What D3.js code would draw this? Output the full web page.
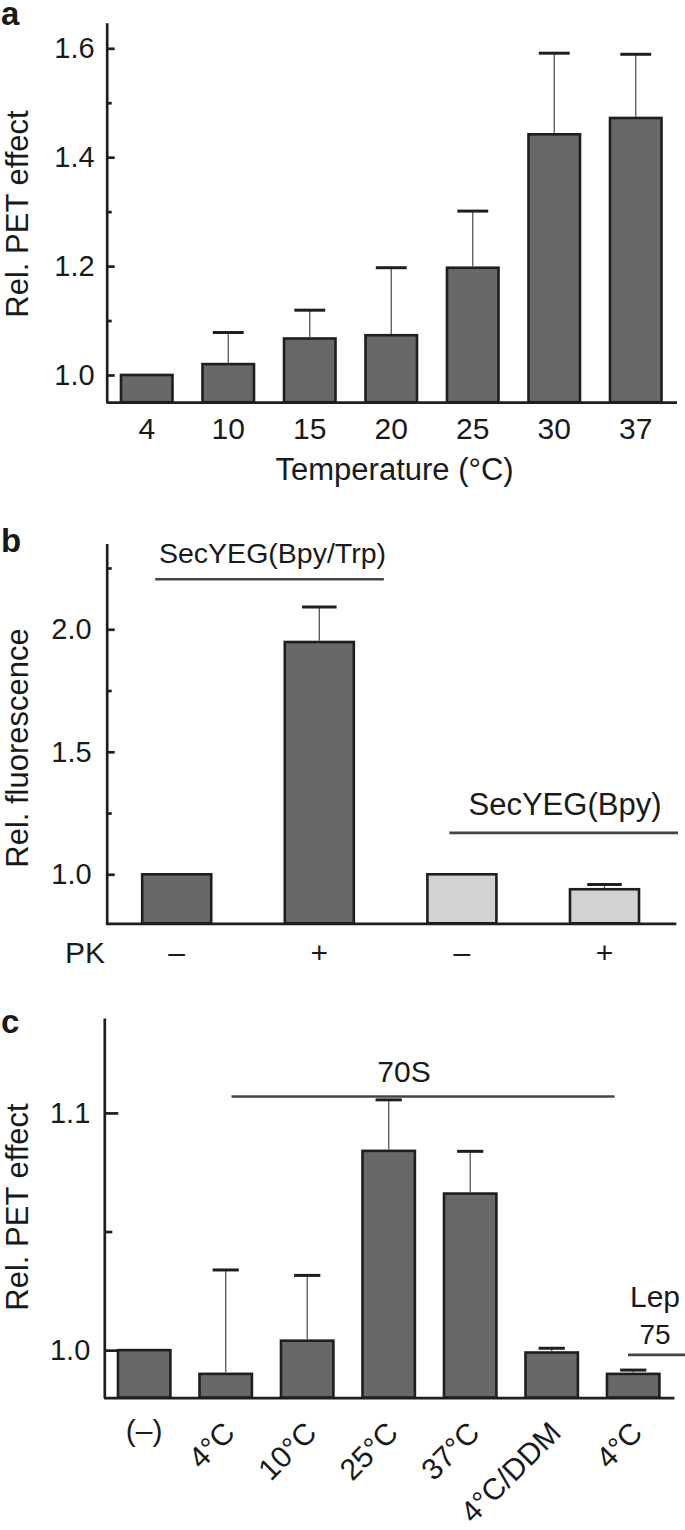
<!DOCTYPE html>
<html>
<head>
<meta charset="utf-8">
<script src="https://cdn.jsdelivr.net/npm/d3@7"></script>
<style>
  body { margin: 0; background: #fff; }
  svg { display: block; font-family: "Liberation Sans", Arial, Helvetica, sans-serif; }
  text { fill: #1a1a1a; }
</style>
</head>
<body>
<svg class="figure"></svg>
<script>
const size = { w: 685, h: 1530 };

// panel a: PET effect vs temperature
const tempLabels = ["4", "10", "15", "20", "25", "30", "37"];
const tempMeans = [1.0, 1.02, 1.067, 1.073, 1.197, 1.442, 1.472];
const tempErrors = [0, 0.058, 0.052, 0.124, 0.104, 0.149, 0.117];

// panel b: fluorescence with / without proteinase K
const pkLabels = ["–", "+", "–", "+"];
const fluorGroups = ["Bpy/Trp", "Bpy/Trp", "Bpy", "Bpy"];
const fluorMeans = [1.0, 1.948, 1.0, 0.939];
const fluorErrors = [0, 0.143, 0, 0.019];

// panel c: PET effect, 70S vs Lep75
const condLabels = ["(–)", "4°C", "10°C", "25°C", "37°C", "4°C/DDM", "4°C"];
const petMeans = [1.0, 0.99, 1.004, 1.084, 1.066, 0.999, 0.99];
const petErrors = [0, 0.0438, 0.0275, 0.0215, 0.0178, 0.0018, 0.0016];

const darkFill = "#67686a";
const lightFill = "#d0d2d3";
const edge = "#1e1e1e";

const svg = d3.select("svg.figure").attr("width", size.w).attr("height", size.h);
svg.append("rect").attr("width", size.w).attr("height", size.h).attr("fill", "#fff");

// bars + error bars, shared by all three panels
function drawBars(g, x, y, means, errors, fills, capFrac) {
	const base = y.domain()[0];
	const bw = x.bandwidth();
	g.selectAll("rect.bar")
		.data(means)
		.join("rect")
		.classed("bar", true)
		.attr("x", (d, i) => x(i))
		.attr("width", bw)
		.attr("y", (d) => y(d))
		.attr("height", (d) => y(base) - y(d))
		.attr("fill", (d, i) => fills[i])
		.attr("stroke", edge)
		.attr("stroke-width", 2.6);

	const errData = means
		.map((m, i) => ({ i: i, m: m, e: errors[i] }))
		.filter((d) => d.e > 0);

	g.selectAll("line.err")
		.data(errData)
		.join("line")
		.classed("err", true)
		.attr("x1", (d) => x(d.i) + bw / 2)
		.attr("x2", (d) => x(d.i) + bw / 2)
		.attr("y1", (d) => y(d.m) - 1.3)
		.attr("y2", (d) => y(d.m + d.e))
		.attr("stroke", "#555")
		.attr("stroke-width", 1.3);

	g.selectAll("line.cap")
		.data(errData)
		.join("line")
		.classed("cap", true)
		.attr("x1", (d) => x(d.i) + bw / 2 - (bw * capFrac) / 2)
		.attr("x2", (d) => x(d.i) + bw / 2 + (bw * capFrac) / 2)
		.attr("y1", (d) => y(d.m + d.e))
		.attr("y2", (d) => y(d.m + d.e))
		.attr("stroke", edge)
		.attr("stroke-width", 3);
}

// left axis with inward ticks, plus unlabeled minor ticks
function drawYAxis(g, y, x0, majors, minors, majorLen, minorLen, pad) {
	const ax = g.append("g")
		.attr("transform", `translate(${x0},0)`)
		.call(d3.axisLeft(y)
			.tickValues(majors)
			.tickFormat(d3.format(".1f"))
			.tickSizeInner(-majorLen)
			.tickSizeOuter(0)
			.tickPadding(pad));
	const mn = g.append("g")
		.attr("transform", `translate(${x0},0)`)
		.call(d3.axisLeft(y)
			.tickValues(minors)
			.tickFormat("")
			.tickSizeInner(-minorLen)
			.tickSizeOuter(0));
	mn.select(".domain").remove();
	[ax, mn].forEach((a) => {
		a.selectAll(".domain, line").attr("stroke", edge).attr("stroke-width", 2.7);
		a.selectAll("text").attr("font-size", 29).attr("font-family", null).attr("fill", "#1a1a1a");
	});
}

function styleXAxis(a) {
	a.select(".domain").attr("stroke", edge).attr("stroke-width", 2.7);
	a.selectAll("text").attr("font-size", 30).attr("font-family", null).attr("fill", "#1a1a1a");
}

function yTitle(g, label, cy) {
	g.append("text")
		.attr("transform", `translate(28,${cy}) rotate(-90)`)
		.attr("text-anchor", "middle")
		.attr("font-size", 31)
		.text(label);
}

function panelLetter(g, letter, y) {
	g.append("text")
		.attr("x", 1)
		.attr("y", y)
		.attr("font-size", 33)
		.attr("font-weight", "bold")
		.text(letter);
}

// ---------------- panel a ----------------
function drawTempChart() {
	const g = svg.append("g");
	const x = d3.scaleBand()
		.domain(d3.range(tempLabels.length))
		.range([106, 676.5])
		.paddingInner(0.368)
		.paddingOuter(0.184);
	const y = d3.scaleLinear().domain([0.95, 1.647]).range([402.2, 22.7]);

	drawBars(g, x, y, tempMeans, tempErrors, tempMeans.map(() => darkFill), 0.6);

	const xa = g.append("g")
		.attr("transform", `translate(0,${y(0.95)})`)
		.call(d3.axisBottom(x).tickFormat((i) => tempLabels[i]).tickSize(0).tickPadding(15.5));
	styleXAxis(xa);
	drawYAxis(g, y, 106.7, [1.0, 1.2, 1.4, 1.6], [1.1, 1.3, 1.5], 8, 5, 12);

	g.append("text")
		.attr("x", 394.6)
		.attr("y", 480)
		.attr("text-anchor", "middle")
		.attr("font-size", 31)
		.text("Temperature (°C)");
	yTitle(g, "Rel. PET effect", 214);
	panelLetter(g, "a", 25);
}

// ---------------- panel b ----------------
function drawFluorChart() {
	const g = svg.append("g");
	const x = d3.scaleBand()
		.domain(d3.range(pkLabels.length))
		.range([105.4, 675.8])
		.paddingInner(0.516)
		.paddingOuter(0.258);
	const y = d3.scaleLinear().domain([0.8, 2.35]).range([923.3, 543.5]);
	const fills = fluorGroups.map((d) => (d === "Bpy/Trp" ? darkFill : lightFill));

	drawBars(g, x, y, fluorMeans, fluorErrors, fills, 0.5);

	const xa = g.append("g")
		.attr("transform", `translate(0,${y(0.8)})`)
		.call(d3.axisBottom(x).tickFormat((i) => pkLabels[i]).tickSize(0).tickPadding(18));
	styleXAxis(xa);
	drawYAxis(g, y, 106.7, [1.0, 1.5, 2.0], [1.25, 1.75, 2.25], 8, 5, 15);

	g.append("text")
		.attr("x", 105)
		.attr("y", 962.6)
		.attr("text-anchor", "end")
		.attr("font-size", 30)
		.text("PK");

	// group brackets
	const bw = x.bandwidth();
	const groups = [
		{ label: "SecYEG(Bpy/Trp)", x1: x(0) + 13, x2: x(1) + bw + 30, ly: 2.204, tx: 272.5, ty: 563.3, fs: 28.5 },
		{ label: "SecYEG(Bpy)", x1: x(2) + 22, x2: 678, ly: 1.169, tx: 565, ty: 814.5, fs: 31 },
	];
	groups.forEach((d) => {
		g.append("line")
			.attr("x1", d.x1).attr("x2", d.x2)
			.attr("y1", y(d.ly)).attr("y2", y(d.ly))
			.attr("stroke", "#444").attr("stroke-width", 2.6);
		g.append("text")
			.attr("x", d.tx).attr("y", d.ty)
			.attr("text-anchor", "middle")
			.attr("font-size", d.fs)
			.text(d.label);
	});

	yTitle(g, "Rel. fluorescence", 748);
	panelLetter(g, "b", 552);
}

// ---------------- panel c ----------------
function drawPetChart() {
	const g = svg.append("g");
	const x = d3.scaleBand()
		.domain(d3.range(condLabels.length))
		.range([103.45, 673.95])
		.paddingInner(0.357)
		.paddingOuter(0.1785);
	const y = d3.scaleLinear().domain([0.98, 1.14]).range([1397.6, 1018]);
	const bw = x.bandwidth();

	drawBars(g, x, y, petMeans, petErrors, petMeans.map(() => darkFill), 0.5);

	const xa = g.append("g")
		.attr("transform", `translate(0,${y(0.98)})`)
		.call(d3.axisBottom(x).tickFormat("").tickSize(0));
	styleXAxis(xa);
	drawYAxis(g, y, 104.3, [1.0, 1.1], [1.05], 14, 8, 14);

	// category labels: first upright, the rest slanted
	g.selectAll("text.cond")
		.data(condLabels)
		.join("text")
		.classed("cond", true)
		.attr("font-size", 30)
		.attr("text-anchor", (d, i) => (i === 0 ? "middle" : "end"))
		.attr("transform", (d, i) =>
			i === 0
				? `translate(${x(i) + bw / 2},${y(0.98) + 43.5})`
				: `translate(${x(i) + bw / 2 + 11},${y(0.98) + 37}) rotate(-45)`
		)
		.text((d) => d);

	// 70S bracket
	g.append("line")
		.attr("x1", x(1) + 32).attr("x2", x(5) + bw * 1.7)
		.attr("y1", y(1.1069)).attr("y2", y(1.1069))
		.attr("stroke", "#444").attr("stroke-width", 2.6);
	g.append("text")
		.attr("x", 404).attr("y", 1081.7)
		.attr("text-anchor", "middle").attr("font-size", 30)
		.text("70S");

	// Lep75 bracket
	g.append("line")
		.attr("x1", x(6) + 21).attr("x2", 685)
		.attr("y1", y(0.998)).attr("y2", y(0.998))
		.attr("stroke", "#444").attr("stroke-width", 2.6);
	g.append("text")
		.attr("x", 655).attr("y", 1306.7)
		.attr("text-anchor", "middle").attr("font-size", 30)
		.text("Lep");
	g.append("text")
		.attr("x", 655).attr("y", 1344.3)
		.attr("text-anchor", "middle").attr("font-size", 28)
		.text("75");

	yTitle(g, "Rel. PET effect", 1207);
	panelLetter(g, "c", 1032.5);
}

drawTempChart();
drawFluorChart();
drawPetChart();
</script>
</body>
</html>
